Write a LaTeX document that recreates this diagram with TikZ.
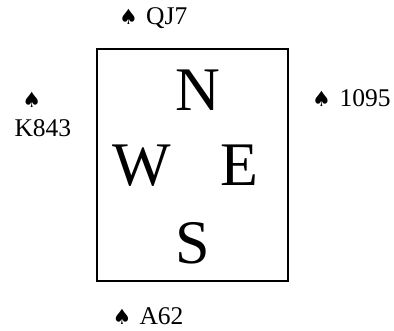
\documentclass[tikz,border=0pt]{standalone}
\usepackage{fontspec}
\setmainfont{Liberation Serif}
\newfontfamily\suitfont{DejaVu Sans}
\begin{document}
\begin{tikzpicture}[x=1pt,y=1pt,
  hand/.style={inner sep=0pt,font=\fontsize{25.5}{30}\selectfont},
  suit/.style={inner sep=0pt,font=\suitfont\fontsize{21}{24}\selectfont},
  seat/.style={inner sep=0pt,font=\fontsize{62}{70}\selectfont},
  board/.style={draw,line width=2pt,minimum width=191.3pt,minimum height=232.3pt,inner sep=0pt}]
\useasboundingbox (0,0) rectangle (394,331);
\node[board] (tbl) at (192.7,165.8) {};
\node[seat,anchor=base] (n) at (197.6,220) {N};
\node[seat,anchor=base] (w) at (141.3,145.7) {W};
\node[seat,anchor=base] (e) at (239.2,145.7) {E};
\node[seat,anchor=base] (s) at (193,67.5) {S};
\node[suit,anchor=base west] (ns) at (119,306) {♠};
\node[hand,anchor=base west] (nh) at (146,306) {QJ7};
\node[suit,anchor=base west] (es) at (311.8,224.3) {♠};
\node[hand,anchor=base west] (eh) at (339.3,224.3) {1095};
\node[suit,anchor=base west] (ss) at (112.5,6) {♠};
\node[hand,anchor=base west] (sh) at (139.3,6) {A62};
\node[suit,anchor=base] (ws) at (31.7,223.7) {♠};
\node[hand,anchor=base] (wh) at (42.9,194.3) {K843};
\end{tikzpicture}
\end{document}
